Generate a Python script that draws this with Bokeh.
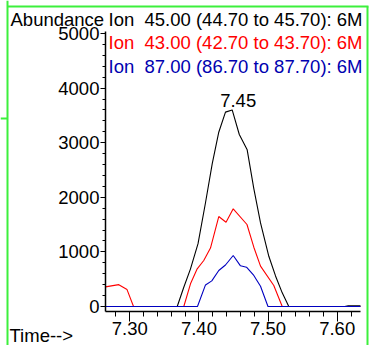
from bokeh.plotting import figure
from bokeh.models import (Range1d, SingleIntervalTicker, PrintfTickFormatter,
                          Label, BoxAnnotation)
from bokeh.models import Node
from bokeh.embed import file_html
from bokeh.resources import INLINE

# ---------------- data ----------------
black_t = [7.2648, 7.3686, 7.3781, 7.3878, 7.3987, 7.4095, 7.4192, 7.4287,
           7.4384, 7.4481, 7.4584, 7.4698, 7.4794, 7.4891, 7.5011, 7.5108,
           7.5205, 7.5300, 7.6110, 7.6160, 7.6337]
black_v = [0, 0, 353, 690, 1150, 1900, 2613, 3192,
           3560, 3600, 3150, 2870, 2160, 1530, 920, 560,
           250, 0, 0, 15, 15]

red_t = [7.2648, 7.2841, 7.2960, 7.3054, 7.3781, 7.3878, 7.3975, 7.4070,
         7.4167, 7.4287, 7.4392, 7.4496, 7.4695, 7.4794, 7.4891, 7.5083,
         7.5205, 7.6337]
red_v = [360, 400, 310, 0, 0, 415, 690, 842,
         1070, 1648, 1544, 1789, 1502, 1086, 740, 385,
         0, 0]

blue_t = [7.2648, 7.3979, 7.4095, 7.4186, 7.4287, 7.4384, 7.4496, 7.4601,
          7.4688, 7.4794, 7.4891, 7.4999, 7.6337]
blue_v = [0, 0, 395, 470, 660, 760, 934, 745,
          720, 568, 370, 0, 0]

legend_texts = ["Ion\u00a0 45.00 (44.70 to 45.70): 6M",
                "Ion\u00a0 43.00 (42.70 to 43.70): 6M",
                "Ion\u00a0 87.00 (86.70 to 87.70): 6M"]
y_title = "Abundance"
x_title = "Time-->"
peak_label = "7.45"

# axis extents (data) and whole-canvas view range
x_axis_bounds = (7.2648, 7.6337)
y_axis_bounds = (-92, 5037)

# ---------------- styling ----------------
FONT = "Liberation Sans"
FS = "18.5px"
colors = ["#000000", "#ff0000", "#0000c0"]
text_colors = ["#000000", "#ff0000", "#0000b0"]
GREEN = "#3cf03c"
W, H = 369, 345

p = figure(width=W, height=H, output_backend="svg", toolbar_location=None,
           x_range=Range1d(7.11296, 7.64674), y_range=Range1d(-714.3, 5604.4),
           min_border=0)
p.xgrid.visible = False
p.ygrid.visible = False
p.outline_line_color = None
p.background_fill_color = "white"
p.border_fill_color = "white"

xa = p.xaxis[0]
xa.fixed_location = y_axis_bounds[0]
xa.bounds = x_axis_bounds
xa.ticker = SingleIntervalTicker(interval=0.1, num_minor_ticks=5)
xa.formatter = PrintfTickFormatter(format="%.2f")
xa.major_tick_out = 10
xa.major_tick_in = 0
xa.minor_tick_out = 5
xa.minor_tick_in = 0
xa.major_label_standoff = 0
ya = p.yaxis[0]
ya.fixed_location = x_axis_bounds[0]
ya.bounds = y_axis_bounds
ya.ticker = SingleIntervalTicker(interval=1000, num_minor_ticks=5)
ya.major_tick_out = 5
ya.major_tick_in = 0
ya.minor_tick_out = 3
ya.minor_tick_in = 0
ya.major_label_standoff = 1
for ax in (xa, ya):
    ax.axis_line_width = 1.5
    ax.axis_line_color = "#000000"
    ax.major_tick_line_color = "#000000"
    ax.minor_tick_line_color = "#000000"
    ax.major_label_text_font = FONT
    ax.major_label_text_font_size = FS
    ax.major_label_text_color = "#000000"

for t, v, c in [(black_t, black_v, colors[0]), (red_t, red_v, colors[1]),
                (blue_t, blue_v, colors[2])]:
    p.line(t, v, line_color=c, line_width=1.1)

# peak label
imax = max(range(len(black_v)), key=lambda i: black_v[i])
p.add_layout(Label(x=black_t[imax], y=black_v[imax], text=peak_label,
                   text_font=FONT, text_font_size=FS, text_align="center",
                   text_color="#000000",
                   text_baseline="alphabetic", x_offset=6, y_offset=9))

# titles / legend texts (screen units, origin at bottom-left of canvas)
def slabel(x, y_top, txt, color="#000000"):
    p.add_layout(Label(x=x, y=H - y_top, x_units="screen", y_units="screen",
                       text=txt, text_font=FONT, text_font_size=FS,
                       text_color=color, text_baseline="alphabetic"))

slabel(10, 19, y_title)
slabel(9, 335, x_title)
for i, (txt, c) in enumerate(zip(legend_texts, text_colors)):
    slabel(108, 19 + 23.3 * i, txt, c)

# green window frame lines
def gbox(l, r, t, b):
    p.add_layout(BoxAnnotation(
        left=Node(target="canvas", symbol="left", offset=l),
        right=Node(target="canvas", symbol="left", offset=r),
        top=Node(target="canvas", symbol="top", offset=t),
        bottom=Node(target="canvas", symbol="top", offset=b),
        fill_color=GREEN, fill_alpha=1.0, line_color=None, level="overlay"))

gbox(6, 8, 0, 345)
gbox(7, 368, 5, 7)
gbox(366, 368, 6, 345)
gbox(0, 7, 117, 119)

open("out.html", "w").write(file_html(p, INLINE))
